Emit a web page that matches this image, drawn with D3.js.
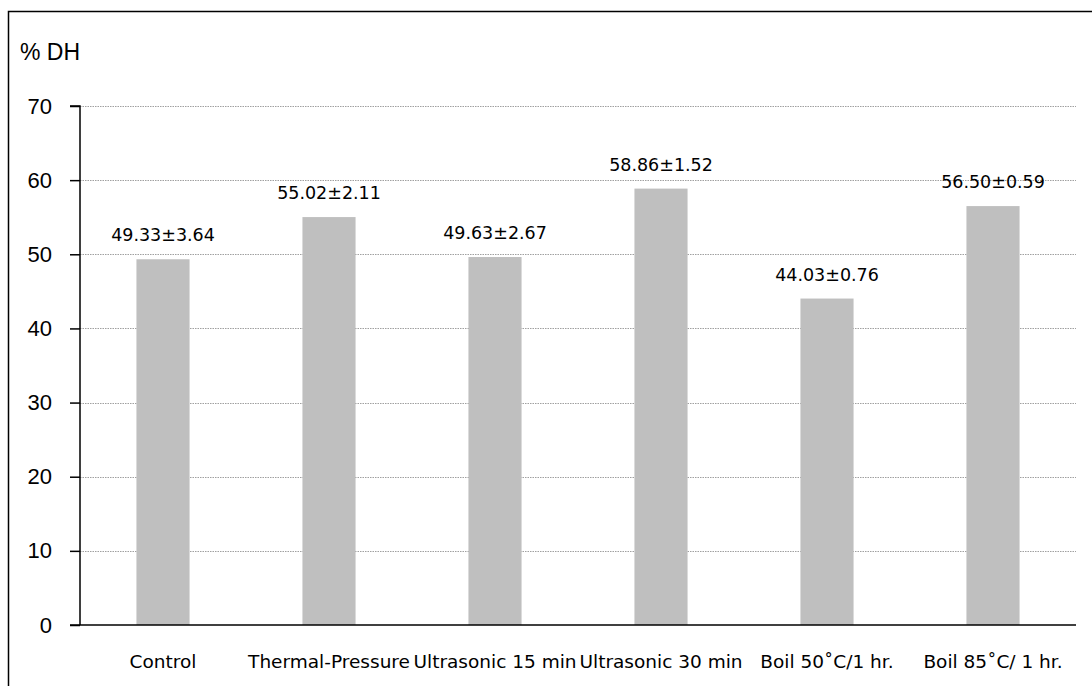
<!DOCTYPE html>
<html>
<head>
<meta charset="utf-8">
<script src="https://cdn.jsdelivr.net/npm/d3@7"></script>
<style>
  html, body { margin: 0; padding: 0; background: #fff; }
  svg { display: block; }
</style>
</head>
<body>
<svg id="chart" width="1092" height="686"></svg>
<script>
const categories = ["Control", "Thermal-Pressure", "Ultrasonic 15 min", "Ultrasonic 30 min", "Boil 50˚C/1 hr.", "Boil 85˚C/ 1 hr."];
const means = [49.33, 55.02, 49.63, 58.86, 44.03, 56.50];
const sds = [3.64, 2.11, 2.67, 1.52, 0.76, 0.59];
const yTicks = [0, 10, 20, 30, 40, 50, 60, 70];
const yTitle = "% DH";

const svg = d3.select("#chart");
const W = 1092, H = 686;
const m = { left: 80, right: 1092 - 1076, top: 106, bottom: 686 - 625 };

// outer frame
svg.append("rect").attr("x", 8.5).attr("y", 11.5).attr("width", W + 10).attr("height", H + 10)
  .attr("fill", "none").attr("stroke", "#000").attr("stroke-width", 1.5);

const x = d3.scaleBand().domain(categories).range([m.left, W - m.right]).paddingInner(0.68).paddingOuter(0.34);
const y = d3.scaleLinear().domain([0, 70]).range([H - m.bottom, m.top]);

// gridlines
svg.append("g").selectAll("line").data(yTicks.filter(d => d > 0)).join("line")
  .attr("x1", m.left).attr("x2", W - m.right)
  .attr("y1", d => Math.round(y(d)) + 0.5).attr("y2", d => Math.round(y(d)) + 0.5)
  .attr("stroke", "#a0a0a0").attr("stroke-width", 1).attr("stroke-dasharray", "1.5,1");

// bars
svg.append("g").selectAll("rect").data(means).join("rect")
  .attr("x", (d, i) => x(categories[i]))
  .attr("width", x.bandwidth())
  .attr("y", d => y(d))
  .attr("height", d => y(0) - y(d))
  .attr("fill", "#bfbfbf");

// value labels
svg.append("g").selectAll("text").data(means).join("text")
  .attr("x", (d, i) => x(categories[i]) + x.bandwidth() / 2)
  .attr("y", d => y(d) - 18)
  .attr("text-anchor", "middle")
  .attr("font-family", "DejaVu Sans")
  .attr("font-size", 17.5)
  .attr("fill", "#000")
  .text((d, i) => d.toFixed(2) + "±" + sds[i].toFixed(2));

// y axis
const yAxis = d3.axisLeft(y).tickValues(yTicks).tickSize(10).tickPadding(18).tickFormat(d3.format("d"));
const gy = svg.append("g").attr("transform", `translate(${m.left},0)`).call(yAxis);
gy.select(".domain").attr("stroke", "#000").attr("stroke-width", 1.5).attr("d", `M-10,${y(70)}H0V${y(0)}`);
gy.selectAll(".tick line").attr("stroke", "#000").attr("stroke-width", 1.5);
gy.selectAll(".tick text").attr("font-family", "Liberation Sans, Arial").attr("font-size", 22).attr("fill", "#000");

// x axis
const xAxis = d3.axisBottom(x).tickSize(0).tickPadding(26);
const gx = svg.append("g").attr("transform", `translate(0,${y(0)})`).call(xAxis);
gx.select(".domain").attr("stroke", "#000").attr("stroke-width", 1.5).attr("d", `M${m.left - 10},0H${W - m.right}`);
gx.selectAll(".tick text").attr("font-family", "DejaVu Sans").attr("font-size", 18.5).attr("fill", "#000").attr("dy", "0.9em");

// y title
svg.append("text").attr("x", 20).attr("y", 60).attr("font-family", "Liberation Sans, Arial")
  .attr("font-size", 23).attr("fill", "#000").text(yTitle);
</script>
</body>
</html>
